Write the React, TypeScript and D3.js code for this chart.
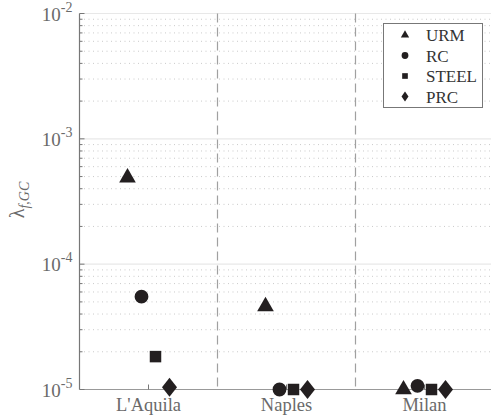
import React from 'react';
import * as d3 from 'd3';

// cities on the x axis, building types as marker series
const cities = ["L'Aquila", 'Naples', 'Milan'];
const types = ['URM', 'RC', 'STEEL', 'PRC'];
const urm = [4.9e-4, 4.6e-5, 1.0e-5];
const rc = [5.5e-5, 1.0e-5, 1.07e-5];
const steel = [1.83e-5, 1.0e-5, 1.0e-5];
const prc = [1.04e-5, 1.0e-5, 1.0e-5];
const decades = [1e-5, 1e-4, 1e-3, 1e-2];

const W = 491;
const H = 419;
const left = 79.5;
const right = 493.5;
const top = 13.5;
const bottom = 389.5;
const font = '"Liberation Serif", "Times New Roman", serif';

const diamond = (w: number, h: number) =>
  `M0,${-h / 2}L${w / 2},0L0,${h / 2}L${-w / 2},0Z`;

const markerPath = (t: string) => {
  if (t === 'URM') return d3.symbol(d3.symbolTriangle, 120)()!;
  if (t === 'RC') return d3.symbol(d3.symbolCircle, 150)()!;
  if (t === 'STEEL') return d3.symbol(d3.symbolSquare, 132)()!;
  return diamond(15, 19);
};

export default function App() {
  const x = d3.scaleBand<string>().domain(cities).range([left, right]).padding(0);
  const off = d3.scalePoint<string>().domain(types).range([-21, 21]);
  const y = d3.scaleLog().domain([1e-5, 1e-2]).range([bottom, top]);

  const series: Record<string, number[]> = { URM: urm, RC: rc, STEEL: steel, PRC: prc };

  const minors: number[] = [];
  decades.slice(0, 3).forEach(d => {
    for (let k = 2; k <= 9; k++) minors.push(d * k);
  });

  const cx = (c: string) => x(c)! + x.bandwidth() / 2;

  return (
    <svg width={W} height={H} style={{ position: 'absolute', left: 0, top: 0 }} fontFamily={font}>
      <rect width={W} height={H} fill="#fff" />
      {/* grid */}
      {minors.map((v, i) => (
        <line key={'m' + i} x1={left} x2={right} y1={y(v)} y2={y(v)}
          stroke="#c4c4c4" strokeWidth={0.9} strokeDasharray="1,3.5" />
      ))}
      {decades.slice(1).map((v, i) => (
        <line key={'M' + i} x1={left} x2={right} y1={y(v)} y2={y(v)} stroke="#e8e8e8" strokeWidth={1.2} />
      ))}
      {/* separators */}
      {cities.slice(1).map(c => (
        <line key={'s' + c} x1={x(c)} x2={x(c)} y1={top} y2={bottom}
          stroke="#a0a0a0" strokeWidth={1.2} strokeDasharray="9,5" />
      ))}
      {/* axes */}
      <line x1={left} x2={left} y1={top} y2={bottom} stroke="#777" strokeWidth={1.2} />
      <line x1={left} x2={right} y1={bottom} y2={bottom} stroke="#999" strokeWidth={1.2} />
      {minors.map((v, i) => (
        <line key={'mt' + i} x1={left} x2={left + 3} y1={y(v)} y2={y(v)} stroke="#777" strokeWidth={1} />
      ))}
      {decades.map((v, i) => (
        <line key={'Mt' + i} x1={left} x2={left + 5} y1={y(v)} y2={y(v)} stroke="#777" strokeWidth={1} />
      ))}
      {cities.map(c => (
        <line key={'xt' + c} x1={cx(c)} x2={cx(c)} y1={bottom} y2={bottom - 5} stroke="#777" strokeWidth={1} />
      ))}
      {/* tick labels */}
      {decades.map((v, i) => (
        <text key={'yl' + i} x={left - 7} y={y(v) + 7} textAnchor="end" fill="#6a6a6a" fontSize={19}>
          10<tspan dy={-9} fontSize={14}>{Math.round(Math.log10(v))}</tspan>
        </text>
      ))}
      {cities.map(c => (
        <text key={'xl' + c} x={cx(c)} y={411} textAnchor="middle" fill="#6a6a6a" fontSize={18.5}>{c}</text>
      ))}
      <text transform="translate(24,200) rotate(-90)" textAnchor="middle" fill="#6a6a6a" fontSize={20}>
        λ<tspan fontStyle="italic" fontSize={14} dy={5}>f,GC</tspan>
      </text>
      {/* markers */}
      {types.map(t =>
        cities.map((c, i) => (
          <path key={t + c} d={markerPath(t)} fill="#231f20"
            transform={`translate(${cx(c) + off(t)!},${y(series[t][i])})`} />
        ))
      )}
      {/* legend */}
      <g>
        <rect x={383.5} y={23.5} width={99} height={84} fill="#fff" stroke="#777" strokeWidth={1} />
        {types.map((t, i) => (
          <g key={'lg' + t} transform={`translate(405,${35 + i * 20.5})`}>
            <path d={t === 'PRC' ? diamond(7, 10) : d3.symbol(
              t === 'URM' ? d3.symbolTriangle : t === 'RC' ? d3.symbolCircle : d3.symbolSquare,
              t === 'URM' ? 30 : t === 'RC' ? 36 : 32)()!} fill="#231f20" />
            <text x={21} y={6} fill="#333" fontSize={17}>{t}</text>
          </g>
        ))}
      </g>
    </svg>
  );
}
